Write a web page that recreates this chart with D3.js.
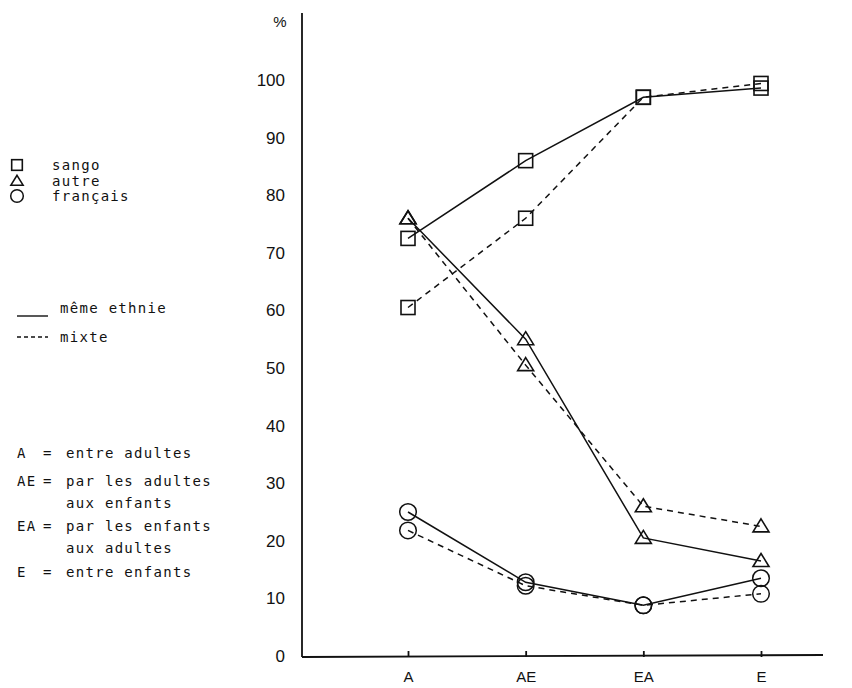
<!DOCTYPE html>
<html><head><meta charset="utf-8">
<script src="https://cdn.jsdelivr.net/npm/d3@7"></script>
<style>body{margin:0;background:#fff}svg{display:block}</style>
</head><body>
<svg id="c" width="852" height="688"></svg>
<script>
const categories = ["A","AE","EA","E"];
const yTicks = [0,10,20,30,40,50,60,70,80,90,100];
const sangoMeme   = [72.5, 86, 97, 98.6];
const sangoMixte  = [60.5, 76, 97, 99.4];
const autreMeme   = [76, 55, 20.5, 16.5];
const autreMixte  = [76, 50.5, 26, 22.5];
const francaisMeme  = [25, 12.8, 8.8, 13.5];
const francaisMixte = [21.8, 12.2, 8.8, 10.8];
const seriesNames = ["sango","autre","français"];
const styleNames = ["même ethnie","mixte"];
const legendDefs = [["A","=","entre adultes"],["AE","=","par les adultes"],["","","aux enfants"],["EA","=","par les enfants"],["","","aux adultes"],["E","=","entre enfants"]];

const svg = d3.select("#c");
const x = d3.scalePoint().domain(categories).range([408, 761]);
const y = d3.scaleLinear().domain([0,100]).range([656, 80]);
const axX = 302, axY = 657;
const ink = "#111";
const tickFont = "'Liberation Sans', Arial, sans-serif";
const monoFont = "'DejaVu Sans Mono', monospace";

svg.append("line").attr("x1",axX).attr("x2",axX).attr("y1",13).attr("y2",axY).attr("stroke",ink).attr("stroke-width",1.8);
svg.append("line").attr("x1",axX).attr("x2",823).attr("y1",axY).attr("y2",axY-2).attr("stroke",ink).attr("stroke-width",1.8);

const ya = d3.axisLeft(y).tickValues(yTicks).tickSize(0).tickPadding(axX-285);
const yg = svg.append("g").attr("transform",`translate(${axX},0)`).call(ya);
yg.select(".domain").remove();
yg.selectAll("text").attr("font-family",tickFont).attr("font-size",17).attr("fill",ink);
svg.append("text").attr("x",280).attr("y",27).attr("text-anchor","middle").attr("font-family",tickFont).attr("font-size",15).attr("fill",ink).text("%");

const xa = d3.axisBottom(x).tickSize(-6).tickPadding(14);
const xg = svg.append("g").attr("transform",`translate(0,${axY})`).call(xa);
xg.select(".domain").remove();
xg.selectAll("line").attr("stroke",ink).attr("stroke-width",1.8);
xg.selectAll("text").attr("font-family",tickFont).attr("font-size",15).attr("fill",ink);

const line = d3.line().x((d,i)=>x(categories[i])).y(d=>y(d));
const dash = "6,5";
const sets = [
  {v:sangoMeme, m:"square", d:null},
  {v:sangoMixte, m:"square", d:dash},
  {v:autreMeme, m:"triangle", d:null},
  {v:autreMixte, m:"triangle", d:dash},
  {v:francaisMeme, m:"circle", d:null},
  {v:francaisMixte, m:"circle", d:dash}
];
sets.forEach(s=>{
  svg.append("path").attr("d",line(s.v)).attr("fill","none").attr("stroke",ink).attr("stroke-width",1.5).attr("stroke-dasharray",s.d);
});
function marker(g, type, cx, cy, k){
  k = k || 1;
  if(type==="square") g.append("rect").attr("x",cx-7*k).attr("y",cy-7*k).attr("width",14*k).attr("height",14*k).attr("fill","none").attr("stroke",ink).attr("stroke-width",1.6);
  else if(type==="triangle") g.append("path").attr("d",`M${cx},${cy-7.5*k}L${cx+8*k},${cy+5.5*k}L${cx-8*k},${cy+5.5*k}Z`).attr("fill","none").attr("stroke",ink).attr("stroke-width",1.6);
  else g.append("circle").attr("cx",cx).attr("cy",cy).attr("r",8.3*k).attr("fill","none").attr("stroke",ink).attr("stroke-width",1.5);
}
sets.forEach(s=>{
  s.v.forEach((d,i)=>marker(svg, s.m, x(categories[i]), y(d)));
});

const lfs = 14, lsp = 1.3;
const mk = ["square","triangle","circle"];
const lrow = [165,181,196];
seriesNames.forEach((n,i)=>{
  marker(svg, mk[i], 17, lrow[i], 0.76);
  svg.append("text").attr("x",52).attr("y",lrow[i]+5).attr("font-family",monoFont).attr("font-size",lfs).attr("letter-spacing",lsp).attr("fill",ink).text(n);
});
const srow = [308,337];
styleNames.forEach((n,i)=>{
  const ly = i===0 ? srow[i]+8 : srow[i];
  svg.append("line").attr("x1",17).attr("x2",48).attr("y1",ly).attr("y2",ly).attr("stroke",ink).attr("stroke-width",1.4).attr("stroke-dasharray",i===0?null:"4,3");
  svg.append("text").attr("x",60).attr("y",srow[i]+5).attr("font-family",monoFont).attr("font-size",lfs).attr("letter-spacing",lsp).attr("fill",ink).text(n);
});
const drow = [453,481,503,526,548,572];
legendDefs.forEach((r,i)=>{
  const t = svg.append("g").attr("font-family",monoFont).attr("font-size",lfs).attr("letter-spacing",lsp).attr("fill",ink);
  t.append("text").attr("x",17).attr("y",drow[i]+5).text(r[0]);
  t.append("text").attr("x",43).attr("y",drow[i]+5).text(r[1]);
  t.append("text").attr("x",66).attr("y",drow[i]+5).text(r[2]);
});
</script>
</body></html>
